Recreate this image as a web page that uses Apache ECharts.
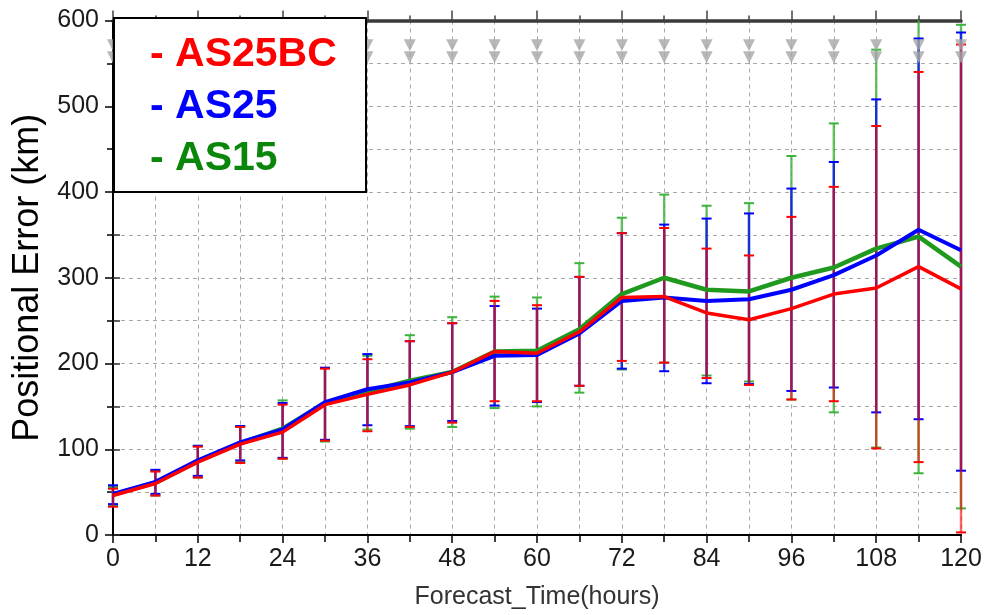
<!DOCTYPE html>
<html>
<head>
<meta charset="utf-8">
<script src="https://cdn.jsdelivr.net/npm/echarts@6/dist/echarts.min.js"></script>
<style>
html,body{margin:0;padding:0;background:#fff;}
#c{width:988px;height:615px;}
</style>
</head>
<body>
<div id="c"></div>
<script>
// ---- data ----
const hours = [0,6,12,18,24,30,36,42,48,54,60,66,72,78,84,90,96,102,108,114,120];
const xTicks = [0,12,24,36,48,60,72,84,96,108,120];
const yTicks = [0,100,200,300,400,500,600];

const as25bc = [46,60,85,106,120,152,164,175,190,214,212,237,277,278,259,251,264,281,288,313,287];
const as25   = [48,62,87,108,123,155,170,178,190,209,210,235,273,277,273,275,286,303,326,356,332];
const as15   = [47,61,86,107,124,154,167,180,190,214,215,240,281,300,286,284,300,312,334,348,313];

const as25bcHigh = [54,74,103,126,152,194,205,226,247,273,268,301,352,358,334,326,371,406,477,540,572];
const as25bcLow  = [33,46,67,84,89,110,121,126,131,156,156,174,203,201,183,175,158,156,101,85,3];
const as25High   = [58,76,104,127,154,195,211,226,247,267,264,301,352,362,369,375,404,435,508,579,586];
const as25Low    = [36,48,69,87,90,111,128,127,133,151,155,174,194,191,177,176,168,172,143,135,75];
const as15High   = [56,75,104,127,157,195,209,233,254,278,277,317,370,397,384,387,442,480,566,640,595];
const as15Low    = [34,46,67,85,89,109,123,124,126,148,150,166,193,201,186,179,158,143,102,72,31];

const markerUpper = [571,571,571,571,571,571,571,571,571,571,571,571,571,571,571,571,571,571,571,571,571];
const markerLower = [557,557,557,557,557,557,557,557,557,557,557,557,557,557,557,557,557,557,557,557,557];

const legendNames = ['- AS25BC','- AS25','- AS15'];

// ---- chart ----
const FONT = '"Liberation Sans", Arial, Helvetica, sans-serif';
const RED = '#ff0000', BLUE = '#0000ff', GREEN = '#1f9a1f';
const Y_MAX = yTicks[yTicks.length-1];

function pairs(v){ return hours.map((h,i)=>[h, v[i]]); }
function bars(lo,hi){ return hours.map((h,i)=>[h, lo[i], hi[i]]); }

function errSeries(name, lo, hi, color, opacity, z){
  return {
    type:'custom', name:name, xAxisIndex:0, yAxisIndex:0, z:z, clip:false,
    data: bars(lo,hi),
    encode:{x:0, y:[1,2]},
    renderItem: function(params, api){
      const x = api.value(0);
      const hiV = api.value(2);
      const pL = api.coord([x, api.value(1)]);
      const pH = api.coord([x, Math.min(hiV, Y_MAX)]);
      const w = 5;
      const kids = [
        {type:'line', shape:{x1:pL[0],y1:pL[1],x2:pH[0],y2:pH[1]}, style:{stroke:color, lineWidth:2.4, opacity:opacity}},
        {type:'line', shape:{x1:pL[0]-w,y1:pL[1],x2:pL[0]+w,y2:pL[1]}, style:{stroke:color,lineWidth:2}}
      ];
      if (hiV <= Y_MAX) kids.push({type:'line', shape:{x1:pH[0]-w,y1:pH[1],x2:pH[0]+w,y2:pH[1]}, style:{stroke:color,lineWidth:2}});
      return {type:'group', children:kids};
    }
  };
}

function lineSeries(name, vals, color, width, z){
  return {type:'line', name:name, xAxisIndex:0, yAxisIndex:0, data:pairs(vals), symbol:'none',
    z:z, lineStyle:{color:color, width:width}, itemStyle:{color:color}};
}

const dashed = {show:true, lineStyle:{color:'#a8a8a8', type:[4,4], width:1}};

const chart = echarts.init(document.getElementById('c'), null, {renderer:'canvas'});
chart.setOption({
  animation:false,
  backgroundColor:'#fff',
  grid:{left:113, right:27, top:20.5, bottom:78.5, containLabel:false},
  xAxis:[{
    type:'value', min:xTicks[0], max:xTicks[xTicks.length-1], interval:12, position:'bottom',
    axisLine:{show:true, onZero:false, lineStyle:{color:'#000', width:2}},
    axisTick:{show:true, length:8, lineStyle:{color:'#000', width:1.5}},
    minorTick:{show:true, splitNumber:2, length:7, lineStyle:{color:'#000', width:1.5}},
    splitLine:dashed, minorSplitLine:dashed,
    axisLabel:{fontSize:25, color:'#1a1a1a', fontFamily:FONT, margin:12},
    name:'Forecast_Time(hours)', nameLocation:'middle', nameGap:50,
    nameTextStyle:{fontSize:25, color:'#333', fontFamily:FONT}
  },{
    type:'value', min:xTicks[0], max:xTicks[xTicks.length-1], interval:12, position:'top',
    axisLine:{show:true, onZero:false, lineStyle:{color:'#3a3a3a', width:3.5}},
    axisTick:{show:true, length:10, lineStyle:{color:'#444', width:1.5}},
    minorTick:{show:true, splitNumber:2, length:5, lineStyle:{color:'#444', width:1.5}},
    splitLine:{show:false}, axisLabel:{show:false}
  }],
  yAxis:[{
    type:'value', min:yTicks[0], max:Y_MAX, interval:100, position:'left',
    axisLine:{show:true, onZero:false, lineStyle:{color:'#000', width:2}},
    axisTick:{show:true, length:8, lineStyle:{color:'#000', width:1.5}},
    minorTick:{show:true, splitNumber:2, length:6, lineStyle:{color:'#000', width:1.5}},
    splitLine:dashed, minorSplitLine:dashed,
    axisLabel:{fontSize:25, color:'#1a1a1a', fontFamily:FONT, margin:14},
    name:'Positional Error (km)', nameLocation:'middle', nameGap:57,
    nameTextStyle:{fontSize:36, color:'#000', fontFamily:FONT}
  },{
    type:'value', min:yTicks[0], max:Y_MAX, interval:100, position:'right',
    axisLine:{show:false},
    axisTick:{show:true, length:7, lineStyle:{color:'#333', width:1.5}},
    minorTick:{show:true, splitNumber:2, length:7, lineStyle:{color:'#333', width:1.5}},
    splitLine:{show:false}, axisLabel:{show:false}
  }],
  series:[
    errSeries('AS15 err', as15Low, as15High, '#3cb43c', 0.8, 1),
    errSeries('AS25 err', as25Low, as25High, BLUE, 0.75, 1.1),
    errSeries('AS25BC err', as25bcLow, as25bcHigh, RED, 0.6, 1.2),
    lineSeries('AS15', as15, GREEN, 4.5, 3),
    lineSeries('AS25', as25, BLUE, 4, 3.1),
    lineSeries('AS25BC', as25bc, RED, 3.5, 3.2),
    {type:'scatter', xAxisIndex:0, yAxisIndex:0, data:pairs(markerUpper), symbol:'triangle', symbolRotate:180,
      symbolSize:[12,12], itemStyle:{color:'#a6a6a6'}, z:4, silent:true},
    {type:'scatter', xAxisIndex:0, yAxisIndex:0, data:pairs(markerLower), symbol:'triangle', symbolRotate:180,
      symbolSize:[12,12], itemStyle:{color:'#a6a6a6'}, z:4, silent:true}
  ],
  graphic:[{
    type:'group', left:113, top:17, z:100,
    children:[
      {type:'rect', shape:{x:0,y:0,width:252,height:174}, style:{fill:'#fff', stroke:'#000', lineWidth:2}, z:100},
      {type:'text', x:36, y:37, z:101, style:{text:legendNames[0], fill:RED, font:'bold 41px '+FONT, verticalAlign:'middle'}},
      {type:'text', x:36, y:89, z:101, style:{text:legendNames[1], fill:BLUE, font:'bold 41px '+FONT, verticalAlign:'middle'}},
      {type:'text', x:36, y:141, z:101, style:{text:legendNames[2], fill:'#0a870a', font:'bold 41px '+FONT, verticalAlign:'middle'}}
    ]
  }]
});
</script>
</body>
</html>
